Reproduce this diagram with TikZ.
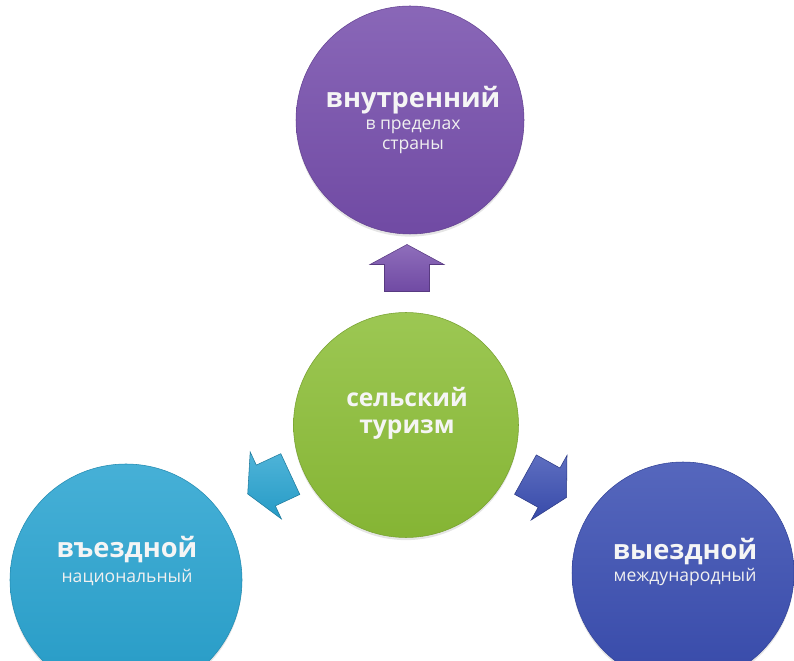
\documentclass[tikz,border=0pt]{standalone}
\usepackage{fontspec}
\setmainfont{Open Sans}
\usetikzlibrary{shadows}
\definecolor{cpurple}{RGB}{118,78,172}
\definecolor{cgreen}{RGB}{140,190,55}
\definecolor{ccyan}{RGB}{40,163,208}
\definecolor{cblue}{RGB}{58,78,178}
\tikzset{
  ball/.style 2 args={circle, inner sep=0pt, minimum size=#1*0.02cm,
    top color=#2!86!white, middle color=#2, bottom color=#2!95!black,
    draw=#2!85!black, line width=0.3pt,
    drop shadow={opacity=0.2, shadow xshift=0pt, shadow yshift=-1.5pt}},
  head/.style={text=white!96!black, font=\bfseries\fontsize{15.5}{17}\selectfont, inner sep=0pt},
  midhead/.style={text=white!96!black, font=\bfseries\fontsize{14}{16}\selectfont, inner sep=0pt},
  sub/.style={text=white!94!black, font=\fontsize{10}{11}\selectfont, inner sep=0pt},
  blockarrow/.pic={\path[pic actions] (-23.5,-22.5) -- (3.5,-22.5) -- (3.5,-37) -- (23.5,0) -- (3.5,37) -- (3.5,22.5) -- (-23.5,22.5) -- cycle;},
  arrowfill/.style={top color=#1!82!white, bottom color=#1!95!black, draw=#1!75!black, line width=0.3pt}
}
\begin{document}
\begin{tikzpicture}[x=0.02cm, y=-0.02cm]
\useasboundingbox (0,0) rectangle (794,661);
\fill[white] (0,0) rectangle (794,661);
\clip (0,0) rectangle (794,661);

% circles
\node[ball={228}{cpurple}] (top) at (410,120) {};
\node[ball={225}{cgreen}] (mid) at (406,425) {};
\node[ball={232}{ccyan}] (left) at (126,580) {};
\node[ball={222}{cblue}] (right) at (683,573) {};

% arrows
\pic[arrowfill=cpurple, rotate=90] (aup) at (407,268) {blockarrow};
\pic[arrowfill=ccyan, rotate=205] (aleft) at (269,484) {blockarrow};
\pic[arrowfill=cblue, rotate=-29] (aright) at (546,486) {blockarrow};

% texts
\node[head] (t1) at (413,100) {внутренний};
\node[sub] (t2) at (413,127) {в пределах};
\node[sub] (t3) at (413,147) {страны};
\node[midhead] (m1) at (407,397) {сельский};
\node[midhead] (m2) at (407,430) {туризм};
\node[head] (l1) at (127,550) {въездной};
\node[sub] (l2) at (127,577) {национальный};
\node[head] (r1) at (685,552) {выездной};
\node[sub] (r2) at (685,577) {международный};
\end{tikzpicture}
\end{document}
